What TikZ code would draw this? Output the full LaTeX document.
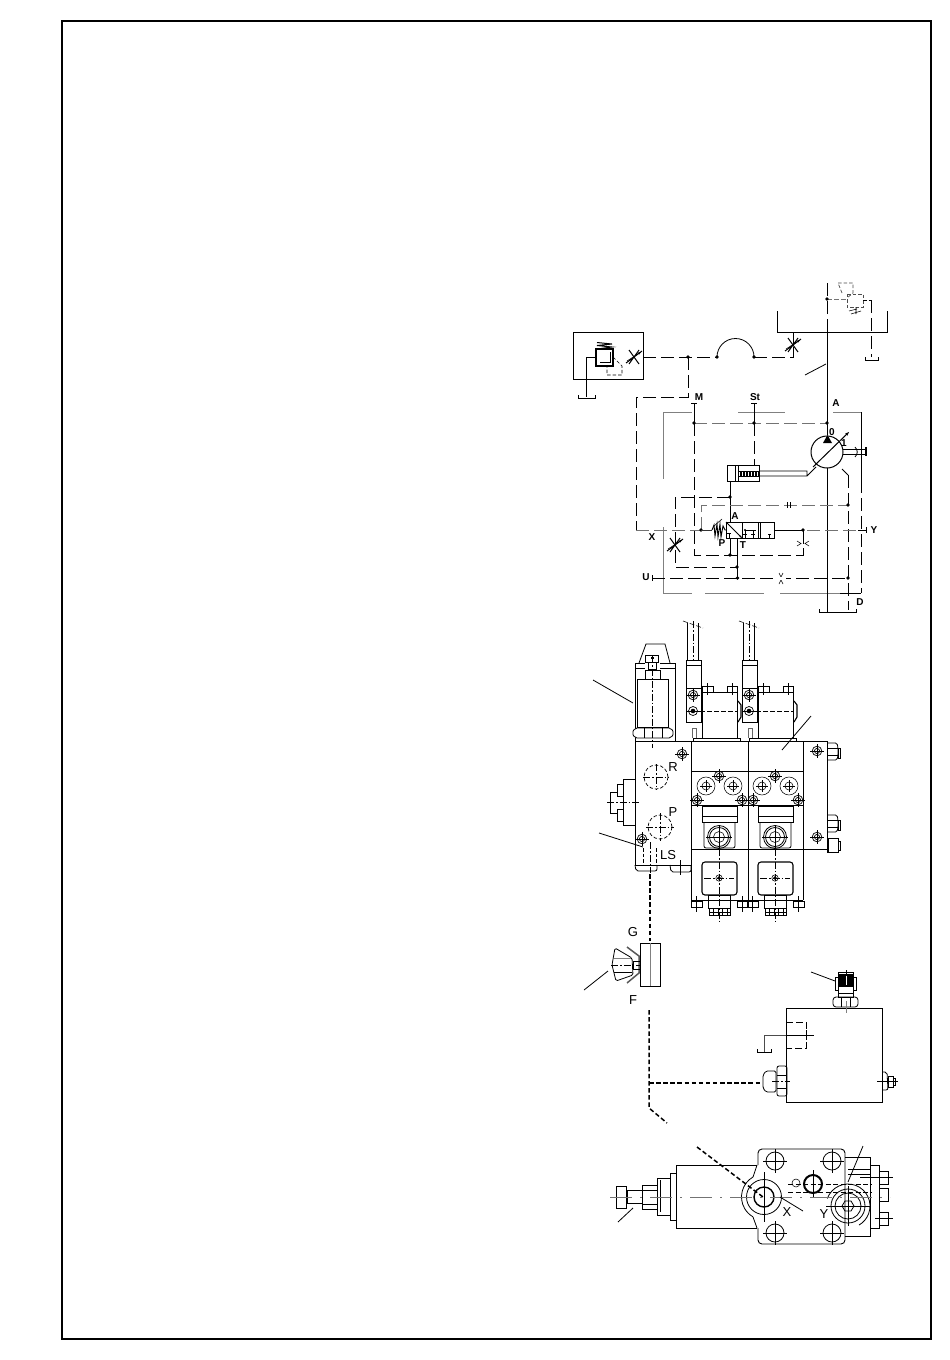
\documentclass[tikz,border=0pt]{standalone}
\usepackage{fontspec}
\setmainfont{Liberation Sans}
\usetikzlibrary{arrows.meta}
\tikzset{
 ln/.style={line width=0.8pt,black},
 th/.style={line width=0.55pt,black},
 gr/.style={line width=1pt,black!50},
 dsh/.style={line width=0.8pt,black,dash pattern=on 13pt off 5pt},
 gdsh/.style={line width=1pt,black!55,dash pattern=on 13pt off 5pt},
 ctr/.style={line width=0.5pt,black,dash pattern=on 7pt off 2pt on 1.5pt off 2pt},
 hvy/.style={line width=1.5pt,black,dash pattern=on 4.5pt off 2.6pt},
 sdsh/.style={line width=0.7pt,black,dash pattern=on 3.5pt off 2pt},
 lbl/.style={font=\fontsize{13}{13}\selectfont,inner sep=0pt},
 slbl/.style={font=\fontsize{10}{10}\selectfont\bfseries,inner sep=0pt},
}
\newcommand\jdot[2]{\fill (#1,#2) circle (1.8pt);}
\newcommand\bigbolt[2]{\draw[th] (#1,#2) circle (9pt) circle (4pt); \draw[th] (#1-6,#2)--(#1+6,#2) (#1,#2-6)--(#1,#2+6);}
\newcommand\smallbolt[2]{\draw[line width=0.7pt] (#1,#2) circle (4.8pt) circle (2.6pt); \draw[th] (#1-7,#2)--(#1+7,#2) (#1,#2-7)--(#1,#2+7);}
\newcommand\ttee[2]{\draw[ln] (#1-3,#2)--(#1+3,#2) (#1,#2)--(#1,#2+6);}
\newcommand\tankm[3]{\draw[ln] (#1,#3-3)--(#1,#3)--(#2,#3)--(#2,#3-3);}
\newcommand\throttle[2]{\draw[line width=1pt] (#1-8,#2+6)--(#1+8,#2-6) (#1-5,#2-7)--(#1,#2)--(#1-5,#2+7) (#1+5,#2-7)--(#1,#2)--(#1+5,#2+7); \draw[-{Stealth[length=3pt]},th] (#1-7,#2+4)--(#1+7,#2-5);}
\newcommand\sectionA[1]{%
 \begin{scope}[xshift=#1pt]
 \draw[ln] (687,623)--(687,660) (698,623)--(698,660);
 \draw[ctr] (693,621)--(693,660);
 \draw[th,dash pattern=on 5pt off 2pt] (683,621)--(703,628);
 \draw[ln] (686,660) rectangle (701,722) (686,665)--(701,665) (686,688)--(701,688);
 \smallbolt{693}{695}
 \draw[line width=0.7pt] (693,711) circle (4.5pt); \fill (693,711) circle (2.3pt);
 \draw[th] (686,711)--(700,711);
 \draw[ln] (702,692) rectangle (737,738);
 \draw[ln] (702,686) rectangle (713,692) (727,686) rectangle (737,692);
 \draw[th] (707,683)--(707,695) (732,683)--(732,695);
 \draw[th,dash pattern=on 5pt off 2pt] (693,711)--(738,711);
 \draw[line width=1.1pt] (738,701)--(741,705)--(741,717)--(738,722);
 \draw[ln] (693,738) rectangle (740,741);
 \draw[line width=1pt,black!60] (692,728)--(692,738) (696,728)--(696,738) (692,728)--(696,728);
 \bigbolt{706}{786}\bigbolt{733}{786}
 \smallbolt{719}{776}\smallbolt{697}{800}\smallbolt{742}{800}
 \draw[ln] (702,806) rectangle (737,822) (702,816)--(737,816);
 \draw[ln,rounded corners=2pt] (704,822)--(704,848)--(735,848)--(735,822);
 \draw[ln] (719,837) circle (11.5pt);
 \draw[ln] (719,837) circle (9.5pt);
 \draw[th] (719,837) circle (5.5pt);
 \draw[th] (706,837)--(732,837) (719,825)--(719,849);
 \draw[line width=1.1pt,rounded corners=3pt] (702,862) rectangle (737,895);
 \draw[ctr] (719,849)--(719,922) (704,878)--(734,878);
 \draw[th] (719,878) circle (3.2pt); \fill (719,878) circle (1.8pt);
 \draw[ln] (708,895) rectangle (730,908);
 \draw[ln] (709,908) rectangle (730,915) (709,912)--(730,912);
 \draw[th] (713,908)--(713,915) (718,908)--(718,915) (722,908)--(722,915) (727,908)--(727,915);
 \draw[ln] (691,901) rectangle (702,907) (737,901) rectangle (748,907);
 \draw[th] (696,896)--(696,912) (742,896)--(742,912);
 \end{scope}}
\begin{document}
\begin{tikzpicture}[x=1pt,y=-1pt]
\useasboundingbox (0,0) rectangle (950,1360);
\fill[white] (0,0) rectangle (950,1360);
\draw[line width=1.6pt] (62,21) rectangle (931,1339);

%%% schematic
\draw[ln] (573,332) rectangle (643,379);
\draw[line width=1.1pt] (596,349) rectangle (613,366);
\draw[line width=1pt] (597,349)--(612,347)--(597,345.5)--(612,344)--(597,342.5);
\draw[ln] (610,352)--(610,362)--(600,362);
\draw[ln] (596,357)--(586,357)--(586,397);
\tankm{578}{595}{398}
\draw[sdsh] (613,357)--(622,366)--(622,375)--(607,375)--(607,366);
\throttle{634}{357}
\draw[dsh] (643,357)--(717,357);
\draw[ln] (717,357) arc (180:0:18.5pt);
\jdot{688}{357}\jdot{717}{357}\jdot{754}{357}
\draw[dsh] (754,357)--(793,357)--(793,345);
\draw[ln] (793,345)--(793,332);
\throttle{793}{345}
\draw[dsh] (688,357)--(688,397)--(636,397)--(636,530);
\draw[ln] (777,311)--(777,332)--(887,332)--(887,311);
\draw[line width=1pt] (827,332)--(827,435);
\draw[dsh] (827,332)--(827,281);
\draw[ln] (805,375)--(826,364);
\draw[sdsh,black!70] (842,293)--(838,283)--(853,283)--(853,293)--(847,298);
\draw[sdsh,black!70] (847,294)--(863,294)--(863,307)--(847,307)--cycle;
\draw[gdsh,dash pattern=on 5pt off 2pt] (827,299)--(847,299);
\draw[th] (849,311)--(857,309) (851,314)--(861,311) (856,307)--(856,314);
\jdot{827}{299}
\draw[sdsh] (863,300)--(871,300);
\draw[dsh] (871,300)--(871,357);
\tankm{865}{878}{360}
\draw[gr] (663,412)--(692,412) (738,412)--(785,412) (833,412)--(861,412);
\draw[gr] (663,412)--(663,479) (663,527)--(663,593);
\draw[gr] (663,593)--(692,593) (705,593)--(764,593) (780,593)--(840,593);
\draw[ln] (840,593)--(861,593);
\draw[ln] (861,412)--(861,480);
\draw[dsh] (861,480)--(861,593);
\ttee{694}{403}\ttee{754}{403}
\draw[ln] (694,409)--(694,423) (754,409)--(754,423);
\draw[gdsh] (694,423)--(827,423);
\jdot{694}{423}\jdot{754}{423}\jdot{827}{423}
\draw[dsh] (754,423)--(754,465);
\draw[dsh] (694,423)--(694,555)--(803,555)--(803,530);
\jdot{730}{555}
\draw[line width=1pt] (827,452) circle (16pt);
\fill (823,443)--(832,443)--(827.5,435)--cycle;
\draw[line width=1pt,-{Stealth[length=4pt]}] (813,467)--(849,432);
\draw[ln] (843,449)--(866,449) (843,454)--(866,454);
\draw[line width=1.2pt] (866,447)--(866,456);
\draw[ln] (855,447) .. controls (858,450) and (858,454) .. (855,457);
\draw[ln] (827,468)--(827,612);
\draw[ln] (842,469)--(848,475);
\draw[dsh] (848,475)--(848,610);
\tankm{819}{856}{612}
\draw[line width=1pt] (727,465) rectangle (759,481);
\draw[ln] (735,465)--(735,481) (738,465)--(738,481);
\foreach \x in {740,741.5,...,758}{\draw[th] (\x,471)--(\x,476);}
\draw[th] (739,471)--(759,471) (739,476)--(759,476);
\draw[ln] (759,471)--(807,471)--(807,476)--(759,476) (807,476)--(816,467);
\draw[ln] (730,481)--(730,522) (730,538)--(730,555);
\jdot{730}{497}
\draw[dsh] (730,497)--(675,497)--(675,567)--(737,567);
\jdot{737}{567}
\draw[ln] (737,543)--(737,578);
\jdot{737.5}{578}
\draw[gdsh] (636,530)--(701,530) (807,530)--(858,530);
\draw[ln] (858,530)--(866,530);
\draw[ln] (866,527)--(866,533);
\draw[gdsh] (701,530)--(701,505)--(848,505);
\jdot{701}{530}\jdot{848}{505}\jdot{803}{530}
\draw[ln] (787,502)--(787,508) (790,502)--(790,508);
\draw[th,black!80] (701,530)--(712,530);
\draw[line width=0.9pt] (712,530)--(714,525)--(715,536)--(717,524)--(718,537)--(720,524)--(721,537)--(723,526)--(725,530)--(726,530);
\draw[th] (714,526)--(722,519);
\draw[ln] (726,522) rectangle (742,538) (742,522) rectangle (758,538) (758,522) rectangle (774,538);
\draw[ln] (760,522)--(760,538);
\draw[ln,-{Stealth[length=3pt]}] (726,522)--(742,538);
\draw[ln] (727,533)--(731,533) (729,533)--(729,538) (768,534)--(771,534) (769.5,534)--(769.5,538);
\draw[th] (745,530)--(745,538) (753,530)--(753,538) (745,530)--(756,530);
\draw[ln] (743,534)--(747,534) (751,534)--(755,534);
\fill (745,530) circle (1.2pt);
\draw[ln] (774,530)--(803,530);
\draw[dsh] (803,530)--(803,555);
\draw[th] (797,541)--(801,543.5)--(797,546) (809,541)--(805,543.5)--(809,546);
\draw[ln] (737,538)--(737,543);
\draw[dsh] (652,578)--(848,578);
\draw[ln] (652,575)--(652,581);
\jdot{848}{578}
\draw[th] (779,573)--(781,577)--(783,573) (779,584)--(781,580)--(783,584);
\fill[white] (776,576.5) rectangle (786,580);
\throttle{675}{545}
\node[slbl] (tM) at (699,397) {M};
\node[slbl] (tSt) at (755,397) {St};
\node[slbl] (tA1) at (836,403) {A};
\node[slbl] (t0) at (832,432) {0};
\node[slbl] (t1) at (844,443) {1};
\node[slbl] (tA2) at (735,516) {A};
\node[slbl] (tP2) at (722,543) {P};
\node[slbl] (tT2) at (743,545) {T};
\node[slbl] (tX) at (652,537) {X};
\node[slbl] (tY) at (874,530) {Y};
\node[slbl] (tU) at (646,577) {U};
\node[slbl] (tD) at (860,602) {D};

%%% control block
\draw[ln] (593,680)--(633,703);
\draw[line width=1pt] (635,741)--(827,741)--(827,853);
\draw[line width=1pt] (635,741)--(635,865)--(691,865);
\draw[ln] (691,741)--(691,900) (748,741)--(748,900) (803,741)--(803,900);
\draw[ln] (691,771)--(803,771) (691,805)--(803,805) (691,849)--(827,849);
\draw[ln] (691,900)--(803,900);
\draw[ln] (635,663) rectangle (675,741) (635,668)--(675,668);
\draw[ln] (639,663)--(646,644)--(665,644)--(670,663);
\fill[white] (645,655) rectangle (660,679);
\draw[ln] (645,655) rectangle (658,662) (648,662) rectangle (656,669) (645,670) rectangle (660,679);
\fill[white] (637,679) rectangle (668,727);
\draw[ln] (637,679) rectangle (668,727);
\draw[ln,rounded corners=2pt,fill=white] (632,733)--(635,728)--(671,728)--(674,733)--(671,738)--(635,738)--cycle;
\draw[th] (644,728)--(644,738) (662,728)--(662,738);
\draw[ctr] (652,656)--(652,748);
\fill (651,657) rectangle (654,659);
\sectionA{0}
\sectionA{56}
\draw[ln] (782,750)--(811,716);
\smallbolt{682}{754}\smallbolt{817}{751}\smallbolt{642}{839}\smallbolt{817}{837}
\draw[ln,rounded corners=1.5pt] (828,743)--(837,743)--(838,748)--(838,755)--(837,760)--(828,760);
\draw[ln] (838,748) rectangle (840,758) (828,748)--(838,748) (828,755)--(838,755);
\draw[ln,rounded corners=1.5pt] (828,815)--(837,815)--(838,820)--(838,827)--(837,832)--(828,832);
\draw[ln] (838,820) rectangle (840,830) (828,820)--(838,820) (828,827)--(838,827);
\draw[ln] (828,838) rectangle (838,852) (838,841) rectangle (840,850);
\draw[sdsh] (656,777) circle (12pt) (660,827) circle (12pt);
\draw[ctr] (643,777)--(669,777) (656,764)--(656,790) (646,827)--(674,827) (660,813)--(660,841);
\node[lbl] (tR) at (673,767) {R};
\node[lbl] (tPp) at (673,812) {P};
\node[lbl] (tLS) at (668,855) {LS};
\draw[ln] (635,779)--(623,779)--(623,825)--(635,825);
\draw[ln] (617,784) rectangle (623,796) (617,809) rectangle (623,821);
\draw[ln] (617,792)--(610,792)--(610,813)--(617,813);
\draw[ctr] (607,802)--(640,802);
\draw[ln] (599,833)--(643,847);
\draw[sdsh] (643,848)--(643,865) (656,848)--(656,865);
\draw[ctr] (650,842)--(650,873);
\draw[ln,rounded corners=2pt] (635,865)--(636,871)--(657,871)--(657,865);
\draw[ln,rounded corners=2pt] (670,865)--(671,872)--(691,872)--(691,865);
\draw[th] (680,860)--(680,875);
\draw[hvy] (650,874)--(650,941);

%%% gauge
\draw[ln] (640,943) rectangle (660,986);
\draw[gr] (650,943)--(650,986);
\draw[line width=1.5pt,black!65] (627,947)--(639,956)--(639,973)--(627,983);
\draw[ln,rounded corners=1.5pt] (615,948)--(632,958)--(633,975)--(616,981)--(612,965)--cycle;
\draw[gr] (614,958)--(631,958);
\draw[th] (614,972)--(632,972);
\draw[ln] (633,961) rectangle (640,969);
\draw[ctr] (611,965)--(641,965);
\draw[ln] (584,990)--(608,971);
\node[lbl] (tG) at (633,932) {G};
\node[lbl] (tF) at (633,1000) {F};

%%% relief block
\draw[hvy] (649,1010)--(649,1108)--(667,1123);
\draw[hvy] (649,1083)--(762,1083);
\draw[ln] (786,1008) rectangle (882,1102);
\draw[sdsh,dash pattern=on 7pt off 3pt] (786,1022)--(806,1022)--(806,1048)--(786,1048);
\draw[th] (786,1035)--(814,1035) (806,1030)--(806,1040);
\draw[line width=0.9pt,black!70] (786,1035)--(764,1035)--(764,1052);
\tankm{757}{771}{1052}
\draw[ln,rounded corners=1.5pt] (763,1075)--(766,1071)--(776,1071)--(776,1092)--(766,1092)--(763,1088)--cycle;
\draw[ln,rounded corners=2pt] (777,1066) rectangle (787,1096);
\draw[th] (777,1075)--(787,1075) (777,1088)--(787,1088);
\draw[ctr] (772,1081)--(790,1081);
\draw[ln,rounded corners=1pt] (833,999)--(835,997)--(856,997)--(858,999)--(858,1005)--(856,1007)--(835,1007)--(833,1005)--cycle;
\draw[th] (841,997)--(841,1007) (850,997)--(850,1007);
\draw[ln] (838,993) rectangle (853,997);
\draw[ln] (835,977) rectangle (838,990) (853,977) rectangle (856,990);
\fill (838,974) rectangle (853,987);
\draw[ln] (838,972) rectangle (853,993);
\draw[white,line width=0.7pt] (846,976)--(846,985);
\draw[th] (846,970)--(846,975);
\draw[gr] (846,1001)--(846,1013);
\draw[ln] (811,972)--(835,981);
\draw[ln,rounded corners=2pt] (882,1072)--(887,1072)--(888,1090)--(883,1090);
\draw[ln] (888,1076) rectangle (893,1087) (893,1078) rectangle (895,1085);
\draw[th] (877,1081)--(898,1081);

%%% bottom view
\draw[ln] (676,1165)--(757,1165) (676,1228)--(757,1228) (676,1165)--(676,1228);
\draw[ln] (670,1173) rectangle (676,1220);
\draw[ln] (657,1178) rectangle (670,1215);
\draw[ln] (660,1180)--(660,1212);
\draw[ln] (642,1185) rectangle (657,1209);
\draw[ln] (642,1190)--(657,1190) (642,1204)--(657,1204);
\draw[ln] (627,1190) rectangle (642,1203);
\draw[line width=1pt] (616,1186) rectangle (626,1208);
\draw[ln] (618,1222)--(633,1208);
\draw[line width=0.9pt,rounded corners=4pt] (758,1165)--(758,1149)--(845,1149)--(845,1244)--(758,1244)--(758,1228);
\draw[ln] (757,1165) -- (753,1177);
\draw[ln] (753,1177) arc (120:240:23pt);
\draw[ln] (753,1217) -- (757,1228);
\draw[ln] (764,1197) circle (17.5pt);
\draw[line width=1.4pt] (764,1197) circle (10pt);
\draw[th] (764,1172)--(764,1222);
\draw[ln] (845,1157)--(870,1157)--(870,1236)--(845,1236);
\draw[ln] (870,1165) rectangle (879,1228);
\draw[ln] (879,1171) rectangle (888,1184) (879,1188) rectangle (888,1201) (879,1212) rectangle (888,1225);
\draw[th] (860,1177)--(893,1177) (875,1218)--(893,1218);
\draw[th] (848,1169)--(870,1169) (848,1174)--(870,1174);
\foreach \cx/\cy in {775/1161,832/1161,775/1233,832/1233}{
 \draw[ln] (\cx,\cy) circle (9pt);
 \draw[th] (\cx-12,\cy)--(\cx+12,\cy) (\cx,\cy-12)--(\cx,\cy+12);}
\begin{scope}
\clip (820,1170) rectangle (870,1240);
\draw[ln] (848,1206) ++(160:22pt) arc (160:-60:22pt);
\end{scope}
\draw[ln] (848,1206) circle (17pt);
\draw[ln] (848,1206) circle (13pt);
\draw[ln] (842,1206)--(845,1201)--(851,1201)--(854,1206)--(851,1211)--(845,1211)--cycle;
\draw[th] (826,1206)--(870,1206) (848,1186)--(848,1226);
\draw[line width=2pt] (813,1184) circle (9pt);
\draw[th] (813,1170)--(813,1198);
\draw[th] (796,1183) circle (4pt);
\draw[sdsh,dash pattern=on 5pt off 2.5pt] (788,1184)--(872,1184) (788,1192)--(872,1192);
\draw[gdsh,dash pattern=on 22pt off 8pt on 2pt off 8pt] (610,1197)--(890,1197);
\draw[ln] (863,1146)--(848,1182);
\draw[ln] (780,1197)--(803,1211);
\draw[hvy] (697,1147)--(763,1197);
\node[lbl] (tXb) at (787,1212) {X};
\node[lbl] (tYb) at (824,1214) {Y};
\end{tikzpicture}
\end{document}
